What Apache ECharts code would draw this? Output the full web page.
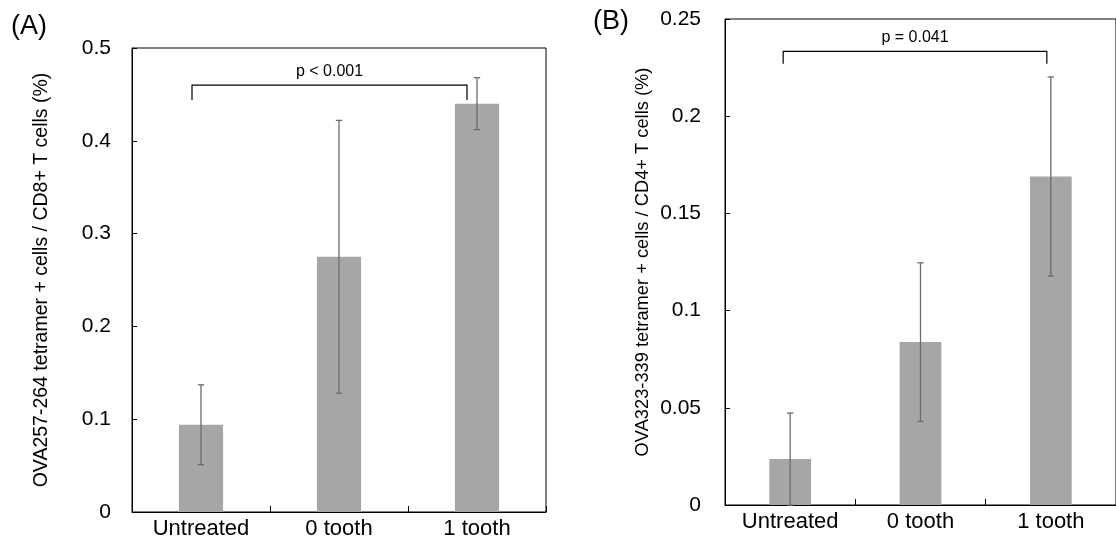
<!DOCTYPE html>
<html>
<head>
<meta charset="utf-8">
<script src="https://cdn.jsdelivr.net/npm/echarts@6/dist/echarts.min.js"></script>
<style>
  html, body { margin: 0; padding: 0; background: #fff; }
  #chart { width: 1116px; height: 542px; }
</style>
</head>
<body>
<div id="chart"></div>
<script>
// 数据
const categories = ['Untreated', '0 tooth', '1 tooth']
// (A) CD8+
const cd8Mean = [0.094, 0.275, 0.44]
const cd8Err = [0.043, 0.147, 0.028]
// (B) CD4+
const cd4Mean = [0.0236, 0.0838, 0.169]
const cd4Err = [0.0237, 0.0408, 0.0512]
// 显著性括号: [起点类别, 终点类别, 顶部值, 端点值]
const cd8Bracket = [0, 2, 0.46, 0.444]
const cd4Bracket = [0, 2, 0.2333, 0.227]
const pLabels = ['p < 0.001', 'p = 0.041']
const axisNames = [
  'OVA257-264 tetramer + cells / CD8+ T cells (%)',
  'OVA323-339 tetramer + cells / CD4+ T cells (%)'
]

const FONT = '"Liberation Sans", Arial, sans-serif'
const BAR_COLOR = '#a6a6a6'
const ERR_COLOR = '#6b6b6b'

function errData (mean, err) {
  return mean.map((m, i) => [i, m - err[i], m + err[i]])
}

function renderErr (params, api) {
  const lo = api.coord([api.value(0), api.value(1)])
  const hi = api.coord([api.value(0), api.value(2)])
  const cap = 3.2
  const style = { stroke: ERR_COLOR, lineWidth: 1.3 }
  return {
    type: 'group',
    children: [
      { type: 'line', shape: { x1: hi[0], y1: hi[1], x2: lo[0], y2: lo[1] }, style },
      { type: 'line', shape: { x1: hi[0] - cap, y1: hi[1], x2: hi[0] + cap, y2: hi[1] }, style },
      { type: 'line', shape: { x1: lo[0] - cap, y1: lo[1], x2: lo[0] + cap, y2: lo[1] }, style }
    ]
  }
}

// 括号两端相对类别中心向左偏移 inset 像素
function bracketRenderer (label, inset) {
  return function (params, api) {
    const a = api.coord([api.value(0), api.value(2)])
    const b = api.coord([api.value(1), api.value(2)])
    const yEnd = api.coord([api.value(0), api.value(3)])[1]
    const x1 = a[0] - inset[0]
    const x2 = b[0] - inset[1]
    return {
      type: 'group',
      children: [
        {
          type: 'polyline',
          shape: { points: [[x1, yEnd], [x1, a[1]], [x2, a[1]], [x2, yEnd]] },
          style: { stroke: '#000', lineWidth: 1.2, fill: null }
        },
        {
          type: 'text',
          x: (x1 + x2) / 2,
          y: a[1] - 6,
          style: {
            text: label,
            font: '16px ' + FONT,
            fill: '#000',
            align: 'center',
            verticalAlign: 'bottom'
          }
        }
      ]
    }
  }
}

function valueAxis (gridIndex, max, interval, name, gap, labelMargin, nameSize) {
  return {
    type: 'value',
    gridIndex,
    min: 0,
    max,
    interval,
    name,
    nameLocation: 'middle',
    nameGap: gap,
    nameTextStyle: { fontFamily: FONT, fontSize: nameSize, color: '#000' },
    axisLine: { show: true, lineStyle: { color: '#000', width: 1 } },
    axisTick: { show: true, inside: true, length: 5, lineStyle: { color: '#000' } },
    axisLabel: { fontFamily: FONT, fontSize: 21, color: '#000', margin: labelMargin },
    splitLine: { show: false }
  }
}

function catAxis (gridIndex) {
  return {
    type: 'category',
    gridIndex,
    data: categories,
    axisLine: { lineStyle: { color: '#000', width: 1 } },
    axisTick: { show: true, inside: true, length: 6, lineStyle: { color: '#000' } },
    axisLabel: { fontFamily: FONT, fontSize: 22, color: '#000', margin: 6 }
  }
}

const chart = echarts.init(document.getElementById('chart'))
chart.setOption({
  animation: false,
  backgroundColor: '#fff',
  title: [
    { text: '(A)', left: 6, top: 8, textStyle: { fontFamily: FONT, fontSize: 27, fontWeight: 'normal', color: '#000' } },
    { text: '(B)', left: 588, top: 3, textStyle: { fontFamily: FONT, fontSize: 27, fontWeight: 'normal', color: '#000' } }
  ],
  grid: [
    { left: 132, top: 48, right: 570, bottom: 30, show: true, borderColor: '#000', borderWidth: 1 },
    { left: 725, top: 19, right: -7, bottom: 37, show: true, borderColor: '#000', borderWidth: 1 }
  ],
  xAxis: [catAxis(0), catAxis(1)],
  yAxis: [
    valueAxis(0, 0.5, 0.1, axisNames[0], 80, 21, 19.5),
    valueAxis(1, 0.25, 0.05, axisNames[1], 73, 24, 18.3)
  ],
  series: [
    {
      type: 'bar', xAxisIndex: 0, yAxisIndex: 0, data: cd8Mean,
      barWidth: '32%', itemStyle: { color: BAR_COLOR }
    },
    {
      type: 'custom', xAxisIndex: 0, yAxisIndex: 0, data: errData(cd8Mean, cd8Err),
      renderItem: renderErr, z: 3
    },
    {
      type: 'custom', xAxisIndex: 0, yAxisIndex: 0, data: [cd8Bracket],
      renderItem: bracketRenderer(pLabels[0], [9, 10]), z: 3
    },
    {
      type: 'bar', xAxisIndex: 1, yAxisIndex: 1, data: cd4Mean,
      barWidth: '32%', itemStyle: { color: BAR_COLOR }
    },
    {
      type: 'custom', xAxisIndex: 1, yAxisIndex: 1, data: errData(cd4Mean, cd4Err),
      renderItem: renderErr, z: 3
    },
    {
      type: 'custom', xAxisIndex: 1, yAxisIndex: 1, data: [cd4Bracket],
      renderItem: bracketRenderer(pLabels[1], [7, 4]), z: 3
    }
  ]
})
</script>
</body>
</html>
